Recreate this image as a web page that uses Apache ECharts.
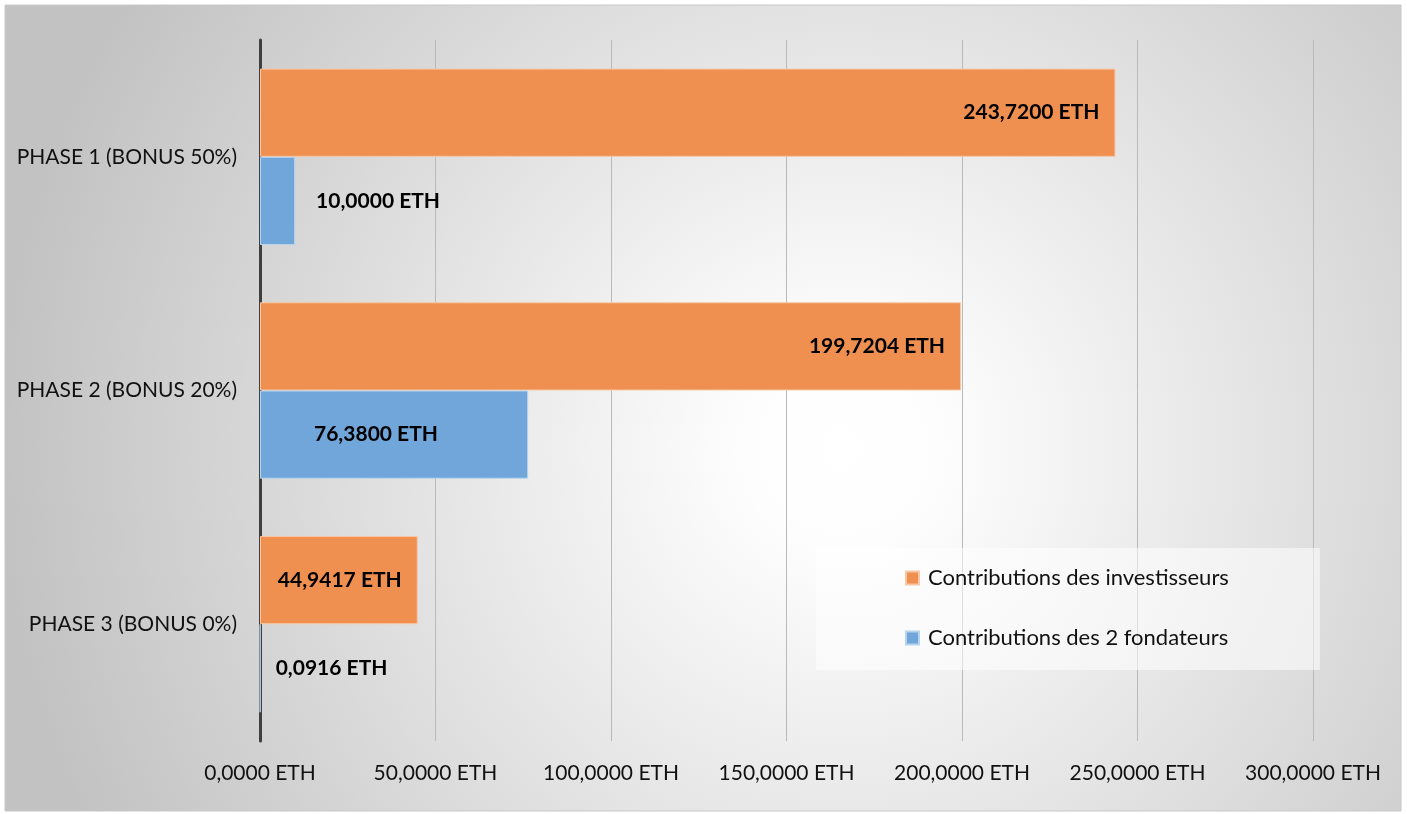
<!DOCTYPE html>
<html>
<head>
<meta charset="utf-8">
<script src="https://cdn.jsdelivr.net/npm/echarts@6/dist/echarts.min.js"></script>
<style>
html,body{margin:0;padding:0;background:#fff;}
#chart{width:1407px;height:814px;}
</style>
</head>
<body>
<div id="chart"></div>
<script>
const categories = ['PHASE 1 (BONUS 50%)', 'PHASE 2 (BONUS 20%)', 'PHASE 3 (BONUS 0%)'];
const investisseurs = [243.72, 199.7204, 44.9417];
const fondateurs = [10.0, 76.38, 0.0916];
const seriesNames = ['Contributions des investisseurs', 'Contributions des 2 fondateurs'];
const axisMin = 0, axisMax = 300, axisInterval = 50;

const FONT = 'Lato';
const fmt = v => v.toFixed(4).replace('.', ',') + ' ETH';

const labelBase = {show: true, fontFamily: FONT, fontSize: 21, fontWeight: 'bold', color: '#000',
  formatter: p => fmt(p.value)};

const founderLabel = [
  {position: 'right', distance: 21},
  {position: 'insideLeft', distance: 54},
  {position: 'right', distance: 15}
];

const chart = echarts.init(document.getElementById('chart'), null, {renderer: 'canvas'});
chart.setOption({
  animation: false,
  textStyle: {fontFamily: FONT},
  graphic: {elements: [{
    type: 'rect', z: -100, silent: true,
    shape: {x: 5, y: 5, width: 1396, height: 806},
    style: {
      fill: {type: 'radial', x: 0.6, y: 0.55, r: 1.05,
        colorStops: [{offset: 0, color: '#ffffff'}, {offset: 0.12, color: '#fdfdfd'}, {offset: 1, color: '#c2c2c2'}]},
      stroke: '#c8c8c8', lineWidth: 1
    }
  }]},
  grid: {left: 260, right: 94, top: 40, bottom: 73, containLabel: false},
  legend: {
    orient: 'vertical', left: 816, top: 548,
    padding: [19, 91, 21, 89], itemGap: 38, itemWidth: 13, itemHeight: 13,
    backgroundColor: 'rgba(255,255,255,0.55)',
    textStyle: {fontFamily: FONT, fontSize: 22, color: '#111', padding: [0, 0, 0, 4]},
    icon: 'rect',
    data: seriesNames
  },
  xAxis: {
    type: 'value', min: axisMin, max: axisMax, interval: axisInterval,
    axisLine: {show: false}, axisTick: {show: false},
    splitLine: {show: true, lineStyle: {color: '#b9b9b9', width: 1}},
    axisLabel: {fontFamily: FONT, fontSize: 21, color: '#111', margin: 22, formatter: v => fmt(v)}
  },
  yAxis: {
    type: 'category', inverse: true, data: categories,
    axisLine: {show: true, lineStyle: {color: '#3f3f3f', width: 3}},
    axisTick: {show: false},
    axisLabel: {fontFamily: FONT, fontSize: 21, color: '#111', margin: 23}
  },
  series: [
    {
      name: seriesNames[0], type: 'bar', barGap: '0%', barCategoryGap: '24.5%',
      itemStyle: {color: '#EF8F50', borderColor: '#F8C7A5', borderWidth: 1},
      label: Object.assign({}, labelBase, {position: 'insideRight', distance: 16}),
      data: investisseurs
    },
    {
      name: seriesNames[1], type: 'bar', barGap: '0%', barCategoryGap: '24.5%',
      itemStyle: {color: '#70A6DA', borderColor: '#B8D3EC', borderWidth: 1},
      label: labelBase,
      data: fondateurs.map((v, i) => ({value: v, label: founderLabel[i]}))
    }
  ]
});
</script>
</body>
</html>
